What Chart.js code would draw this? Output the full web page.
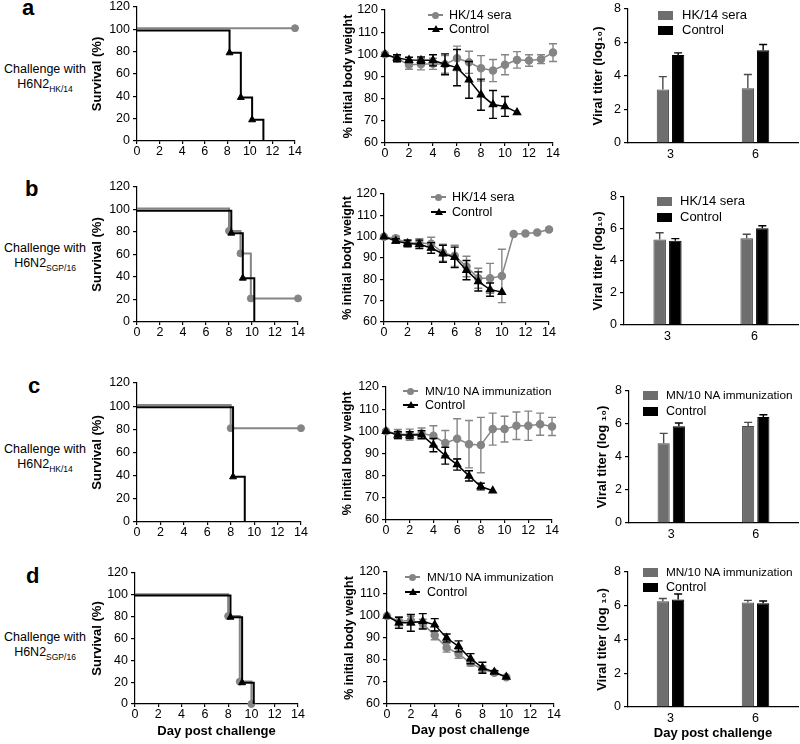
<!DOCTYPE html>
<html>
<head>
<meta charset="utf-8">
<title>H6N2 challenge</title>
<script src="https://cdn.jsdelivr.net/npm/chart.js@4.4.1/dist/chart.umd.min.js"></script>
<style>
  body { margin: 0; background: #fff; }
  #fig { position: relative; width: 800px; height: 744px; overflow: hidden;
         font-family: "Liberation Sans", Arial, Helvetica, sans-serif; color: #000; }
  #fig canvas { position: absolute; }
  .letter { position: absolute; font-size: 22px; line-height: 22px; font-weight: bold; }
  .rowlab { position: absolute; left: 0; width: 90px; text-align: center; font-size: 12.5px; line-height: 15px; }
  .rowlab sub { font-size: 8.5px; vertical-align: -4px; line-height: 0; }
  .lg { position: absolute; height: 14px; line-height: 14px; white-space: nowrap; }
  .lg .sym { position: absolute; left: 0; top: 0; width: 15px; height: 14px; }
  .lg .txt { position: absolute; top: 0; }
</style>
</head>
<body>
<div id="fig">
  <div class="letter" style="left:22px;top:-3px">a</div>
  <div class="letter" style="left:25px;top:178px">b</div>
  <div class="letter" style="left:28px;top:375px">c</div>
  <div class="letter" style="left:26px;top:565px">d</div>
  <div class="rowlab" style="top:62px">Challenge with<br>H6N2<sub>HK/14</sub></div>
  <div class="rowlab" style="top:241px">Challenge with<br>H6N2<sub>SGP/16</sub></div>
  <div class="rowlab" style="top:442px">Challenge with<br>H6N2<sub>HK/14</sub></div>
  <div class="rowlab" style="top:630px">Challenge with<br>H6N2<sub>SGP/16</sub></div>
</div>
<script>
// survival curves (Kaplan-Meier steps): x = day, y = % surviving
const survA_seraX = [0, 14];
const survA_seraY = [101, 101];
const survA_ctrlX = [0, 8.2, 9.2, 10.2, 11.2];
const survA_ctrlY = [99, 79, 39, 19, 0];

const survB_seraX = [0, 8, 9, 9.9, 14];
const survB_seraY = [101, 81, 61, 21, 21];
const survB_ctrlX = [0, 8.2, 9.2, 10.2];
const survB_ctrlY = [99, 79, 39, 0];

const survC_immX = [0, 8, 14];
const survC_immY = [101, 81, 81];
const survC_ctrlX = [0, 8.2, 9.2];
const survC_ctrlY = [99, 39, 0];

const survD_immX = [0, 8, 9, 10];
const survD_immY = [100.5, 80.5, 20.5, 0];
const survD_ctrlX = [0, 8.2, 9.2, 10.2];
const survD_ctrlY = [99.5, 79.5, 19.5, 0];

// body weight, % of initial (mean and SD per day)
const days = [0, 1, 2, 3, 4, 5, 6, 7, 8, 9, 10, 11, 12, 13, 14];

const wtA_sera = [100, 98, 95.3, 95.5, 95.7, 95.5, 98.2, 96.4, 93.7, 92.7, 95.3, 97.5, 97.2, 97.8, 100.8];
const wtA_seraSd = [0, 1.5, 2, 2.5, 2.5, 4, 5.5, 5, 5.7, 5, 4.5, 3.7, 2.6, 2, 4];
const wtA_ctrl = [100, 98.3, 97.5, 97.3, 97.3, 95.5, 94, 88.5, 81.8, 77.4, 76.5, 73.8];
const wtA_ctrlSd = [0, 1.5, 1.2, 1.5, 2.5, 4.7, 8.2, 8.3, 7, 6.3, 4.5, 0];

const wtB_sera = [100, 99.2, 97, 97, 96.7, 92.5, 91, 86, 80.5, 80.5, 81.6, 101.2, 101.5, 102, 103.4];
const wtB_seraSd = [0, 1, 1.5, 2, 3, 4, 5, 4.8, 4.7, 7, 12.5, 0, 0, 0, 0];
const wtB_ctrl = [100, 98, 96.8, 96.4, 94.7, 92, 90.3, 84.3, 79, 75.2, 74];
const wtB_ctrlSd = [0, 1, 1.5, 2, 2.5, 4, 4.8, 4.5, 4.5, 3.1, 0];

const wtC_imm = [100, 98.8, 98.5, 99, 98, 94.7, 96.7, 94.2, 93.8, 101, 101, 102.5, 102.5, 103.2, 102.2];
const wtC_immSd = [0, 2, 2.5, 2.5, 4.5, 5.7, 9, 10.7, 12.5, 7.2, 5.8, 6.2, 6.6, 5, 4.1];
const wtC_ctrl = [100, 98.3, 98.3, 98.5, 93.8, 89, 85, 79.9, 75.1, 73.2];
const wtC_ctrlSd = [0, 1.5, 1.5, 1.8, 3, 3.8, 2.5, 2.3, 1.5, 0];

const wtD_imm = [100, 97.6, 97.9, 96.5, 91.2, 85.6, 82.8, 78.7, 75.8, 74.2, 72.2];
const wtD_immSd = [0, 2, 2, 2, 2, 2, 2, 1.5, 1.5, 0.8, 0];
const wtD_ctrl = [100, 96.9, 96.9, 97.6, 96, 90, 86.2, 80.6, 76.5, 74.5, 72.3];
const wtD_ctrlSd = [0, 2.5, 3.8, 3.5, 2.8, 1.8, 2.5, 2.3, 2.5, 0.6, 0];

// lung viral titer, log10 (mean and SD), days 3 and 6
const titerDays = ['3', '6'];
const titerA_sera = [3.2, 3.27];
const titerA_seraSd = [0.76, 0.82];
const titerA_ctrl = [5.26, 5.53];
const titerA_ctrlSd = [0.12, 0.35];
const titerB_sera = [5.35, 5.42];
const titerB_seraSd = [0.42, 0.25];
const titerB_ctrl = [5.27, 6.05];
const titerB_ctrlSd = [0.13, 0.15];
const titerC_imm = [4.83, 5.88];
const titerC_immSd = [0.6, 0.22];
const titerC_ctrl = [5.86, 6.43];
const titerC_ctrlSd = [0.2, 0.13];
const titerD_imm = [6.27, 6.2];
const titerD_immSd = [0.16, 0.12];
const titerD_ctrl = [6.37, 6.15];
const titerD_ctrlSd = [0.33, 0.13];

const seraName = 'HK/14 sera';
const immName = 'MN/10 NA immunization';
const ctrlName = 'Control';

Chart.defaults.font.family = '"Liberation Sans", Arial, Helvetica, sans-serif';
Chart.defaults.color = '#000';

const FIG = document.getElementById('fig');
const LINE_GRAY = '#858585';
const BAR_GRAY = '#6e6e6e';
const PAD_TOP = 11; // y tick label half height + tick padding

// draws SD whiskers under each dataset (bars: upper half only)
const errorBars = {
  id: 'errorBars',
  beforeDatasetDraw(chart, args) {
    const ds = chart.data.datasets[args.index];
    if (!ds.errors) return;
    const yScale = chart.scales.y;
    const ctx = chart.ctx;
    ctx.save();
    ctx.strokeStyle = ds.errorColor;
    ctx.lineWidth = 1.4;
    args.meta.data.forEach((el, i) => {
      const e = ds.errors[i];
      if (!e) return;
      const raw = ds.data[i];
      const v = typeof raw === 'object' ? raw.y : raw;
      const yTop = yScale.getPixelForValue(v + e);
      const yBot = yScale.getPixelForValue(ds.upOnly ? v : v - e);
      const w = 4;
      ctx.beginPath();
      ctx.moveTo(el.x, yTop); ctx.lineTo(el.x, yBot);
      ctx.moveTo(el.x - w, yTop); ctx.lineTo(el.x + w, yTop);
      if (!ds.upOnly) { ctx.moveTo(el.x - w, yBot); ctx.lineTo(el.x + w, yBot); }
      ctx.stroke();
    });
    ctx.restore();
  }
};

// canvas placed so that the plot area lands on box (page pixels)
function place(box, yTitleX, xTitleY, padR) {
  const yW = Math.round(box.l - (yTitleX - 7.8));
  const xH = xTitleY ? Math.round(xTitleY + 7.8 - box.b) : 22;
  const left = box.l - yW, top = box.t - PAD_TOP;
  const w = box.r + padR - left, h = box.b + xH - top;
  const c = document.createElement('canvas');
  c.width = w; c.height = h;
  Object.assign(c.style, { left: left + 'px', top: top + 'px', width: w + 'px', height: h + 'px' });
  FIG.appendChild(c);
  return { canvas: c, yW, xH, padR };
}

function axisY(p, min, max, step, title, titleSize) {
  return {
    type: 'linear', min, max,
    ticks: { stepSize: step, padding: 3, font: { size: 12.5 } },
    grid: { drawOnChartArea: false, tickLength: 4, color: '#000', lineWidth: 1.2 },
    border: { color: '#000', width: 1.2 },
    title: { display: true, text: title, font: { size: titleSize, weight: 'bold' }, padding: 0 },
    afterFit: s => { s.width = p.yW; }
  };
}

function axisDays(p, showTitle) {
  return {
    type: 'linear', min: 0, max: 14,
    ticks: { stepSize: 2, padding: 0, font: { size: 12.5 }, maxRotation: 0, autoSkip: false },
    grid: { drawOnChartArea: false, tickLength: 3, color: '#000', lineWidth: 1.2 },
    border: { color: '#000', width: 1.2 },
    title: { display: showTitle, text: 'Day post challenge', font: { size: 13, weight: 'bold' }, padding: 0 },
    afterFit: s => { s.height = p.xH; }
  };
}

function baseOptions(p, scales) {
  return {
    responsive: false, animation: false, events: [],
    layout: { padding: { top: PAD_TOP, right: p.padR, left: 0, bottom: 0 } },
    plugins: { legend: { display: false }, tooltip: { enabled: false } },
    scales
  };
}

function kmSet(xs, ys, color, style, hideZero, order) {
  return {
    data: xs.map((x, i) => ({ x, y: ys[i] })),
    stepped: true, borderColor: color, borderWidth: 2, clip: false, order,
    pointStyle: style, pointBackgroundColor: color, pointBorderColor: color, pointBorderWidth: 1,
    pointRadius: c => (c.dataIndex === 0 || (hideZero && c.raw.y === 0)) ? 0 : (style === 'triangle' ? 4 : 3.5)
  };
}

function wtSet(means, sds, color, style, order) {
  return {
    data: means.map((y, i) => ({ x: days[i], y })),
    errors: sds, errorColor: color,
    borderColor: color, borderWidth: 1.5, tension: 0, clip: false, order,
    pointStyle: style, pointBackgroundColor: color, pointBorderColor: color,
    pointRadius: style === 'triangle' ? 4 : 3.5
  };
}

function barSet(vals, sds, fill, edge) {
  return {
    data: vals, errors: sds, errorColor: edge, upOnly: true,
    backgroundColor: fill, borderColor: edge, borderWidth: 1,
    categoryPercentage: 0.36, barPercentage: 0.8
  };
}

function survivalChart(box, xTitleY, treat, ctrl) {
  const p = place(box, 98, xTitleY, 10);
  new Chart(p.canvas, {
    type: 'line',
    data: { datasets: [
      kmSet(treat[0], treat[1], LINE_GRAY, 'circle', false, 1),
      kmSet(ctrl[0], ctrl[1], '#000', 'triangle', true, 0)
    ] },
    options: baseOptions(p, {
      x: axisDays(p, !!xTitleY),
      y: axisY(p, 0, 120, 20, 'Survival (%)', 13)
    })
  });
}

function weightChart(box, titleX, xTitleY, treat, ctrl) {
  const p = place(box, titleX, xTitleY, 10);
  new Chart(p.canvas, {
    type: 'line',
    data: { datasets: [
      wtSet(treat[0], treat[1], LINE_GRAY, 'circle', 1),
      wtSet(ctrl[0], ctrl[1], '#000', 'triangle', 0)
    ] },
    options: baseOptions(p, {
      x: axisDays(p, !!xTitleY),
      y: axisY(p, 60, 120, 10, '% initial body weight', 12.5)
    }),
    plugins: [errorBars]
  });
}

function titerChart(box, titleX, xTitleY, yTitle, treat, ctrl) {
  const p = place(box, titleX, xTitleY, 2);
  new Chart(p.canvas, {
    type: 'bar',
    data: { labels: titerDays, datasets: [
      barSet(treat[0], treat[1], BAR_GRAY, '#4a4a4a'),
      barSet(ctrl[0], ctrl[1], '#000', '#000')
    ] },
    options: baseOptions(p, {
      x: {
        type: 'category', offset: true,
        ticks: { padding: 4, font: { size: 12.5 } },
        grid: { drawOnChartArea: false, drawTicks: false, offset: true },
        border: { color: '#000', width: 1.2 },
        title: { display: !!xTitleY, text: 'Day post challenge', font: { size: 13, weight: 'bold' }, padding: 0 },
        afterFit: s => { s.height = p.xH; }
      },
      y: axisY(p, 0, 8, 2, yTitle, 13)
    }),
    plugins: [errorBars]
  });
}

function lineLegend(x, y, textX, label, color, marker, size) {
  const d = document.createElement('div');
  d.className = 'lg';
  d.style.left = x + 'px';
  d.style.top = (y - 7) + 'px';
  d.style.fontSize = size + 'px';
  const mk = marker === 'circle'
    ? `<span style="position:absolute;left:4px;top:3.5px;width:7px;height:7px;border-radius:50%;background:${color}"></span>`
    : `<span style="position:absolute;left:3.5px;top:3px;width:0;height:0;border-left:4px solid transparent;border-right:4px solid transparent;border-bottom:7px solid ${color}"></span>`;
  d.innerHTML = `<span class="sym"><span style="position:absolute;left:0;top:6px;width:15px;height:2px;background:${color}"></span>${mk}</span>` +
    `<span class="txt" style="left:${textX - x}px">${label}</span>`;
  FIG.appendChild(d);
}

function boxLegend(x, y, textX, label, color, size) {
  const d = document.createElement('div');
  d.className = 'lg';
  d.style.left = x + 'px';
  d.style.top = (y - 7) + 'px';
  d.style.fontSize = size + 'px';
  d.innerHTML = `<span class="sym" style="top:2.5px;height:9px;background:${color}"></span>` +
    `<span class="txt" style="left:${textX - x}px">${label}</span>`;
  FIG.appendChild(d);
}

// row a
survivalChart({ l: 137, t: 7, r: 295, b: 141 }, null, [survA_seraX, survA_seraY], [survA_ctrlX, survA_ctrlY]);
weightChart({ l: 385, t: 10, r: 553, b: 143 }, 349, null, [wtA_sera, wtA_seraSd], [wtA_ctrl, wtA_ctrlSd]);
titerChart({ l: 628, t: 9, r: 798, b: 143 }, 599, null, 'Viral titer (log₁₀)', [titerA_sera, titerA_seraSd], [titerA_ctrl, titerA_ctrlSd]);
lineLegend(428, 15, 449, seraName, LINE_GRAY, 'circle', 12.5);
lineLegend(428, 29, 449, ctrlName, '#000', 'triangle', 12.5);
boxLegend(658, 15, 682, seraName, BAR_GRAY, 13);
boxLegend(658, 30, 682, ctrlName, '#000', 13);

// row b
survivalChart({ l: 137, t: 187, r: 298, b: 322 }, null, [survB_seraX, survB_seraY], [survB_ctrlX, survB_ctrlY]);
weightChart({ l: 384, t: 194, r: 549, b: 322 }, 348, null, [wtB_sera, wtB_seraSd], [wtB_ctrl, wtB_ctrlSd]);
titerChart({ l: 624, t: 197, r: 798, b: 325 }, 599, null, 'Viral titer (log₁₀)', [titerB_sera, titerB_seraSd], [titerB_ctrl, titerB_ctrlSd]);
lineLegend(431, 197, 452, seraName, LINE_GRAY, 'circle', 12.5);
lineLegend(431, 212, 452, ctrlName, '#000', 'triangle', 12.5);
boxLegend(657, 201, 680, seraName, BAR_GRAY, 13);
boxLegend(657, 217, 680, ctrlName, '#000', 13);

// row c
survivalChart({ l: 137, t: 383, r: 301, b: 522 }, null, [survC_immX, survC_immY], [survC_ctrlX, survC_ctrlY]);
weightChart({ l: 386, t: 387, r: 552, b: 520 }, 348, null, [wtC_imm, wtC_immSd], [wtC_ctrl, wtC_ctrlSd]);
titerChart({ l: 629, t: 391, r: 798, b: 523 }, 603, null, 'Viral titer (log ₁₀)', [titerC_imm, titerC_immSd], [titerC_ctrl, titerC_ctrlSd]);
lineLegend(403, 391, 425, immName, LINE_GRAY, 'circle', 11.8);
lineLegend(403, 405, 425, ctrlName, '#000', 'triangle', 12.5);
boxLegend(643, 395, 666, immName, BAR_GRAY, 11.8);
boxLegend(643, 411, 666, ctrlName, '#000', 12.5);

// row d
survivalChart({ l: 135, t: 573, r: 298, b: 704 }, 731, [survD_immX, survD_immY], [survD_ctrlX, survD_ctrlY]);
weightChart({ l: 387, t: 572, r: 554, b: 704 }, 350, 730, [wtD_imm, wtD_immSd], [wtD_ctrl, wtD_ctrlSd]);
titerChart({ l: 628, t: 572, r: 798, b: 707 }, 603, 733, 'Viral titer (log ₁₀)', [titerD_imm, titerD_immSd], [titerD_ctrl, titerD_ctrlSd]);
lineLegend(405, 577, 427, immName, LINE_GRAY, 'circle', 11.8);
lineLegend(405, 592, 427, ctrlName, '#000', 'triangle', 12.5);
boxLegend(643, 572, 666, immName, BAR_GRAY, 11.8);
boxLegend(643, 587, 666, ctrlName, '#000', 12.5);
</script>
</body>
</html>
